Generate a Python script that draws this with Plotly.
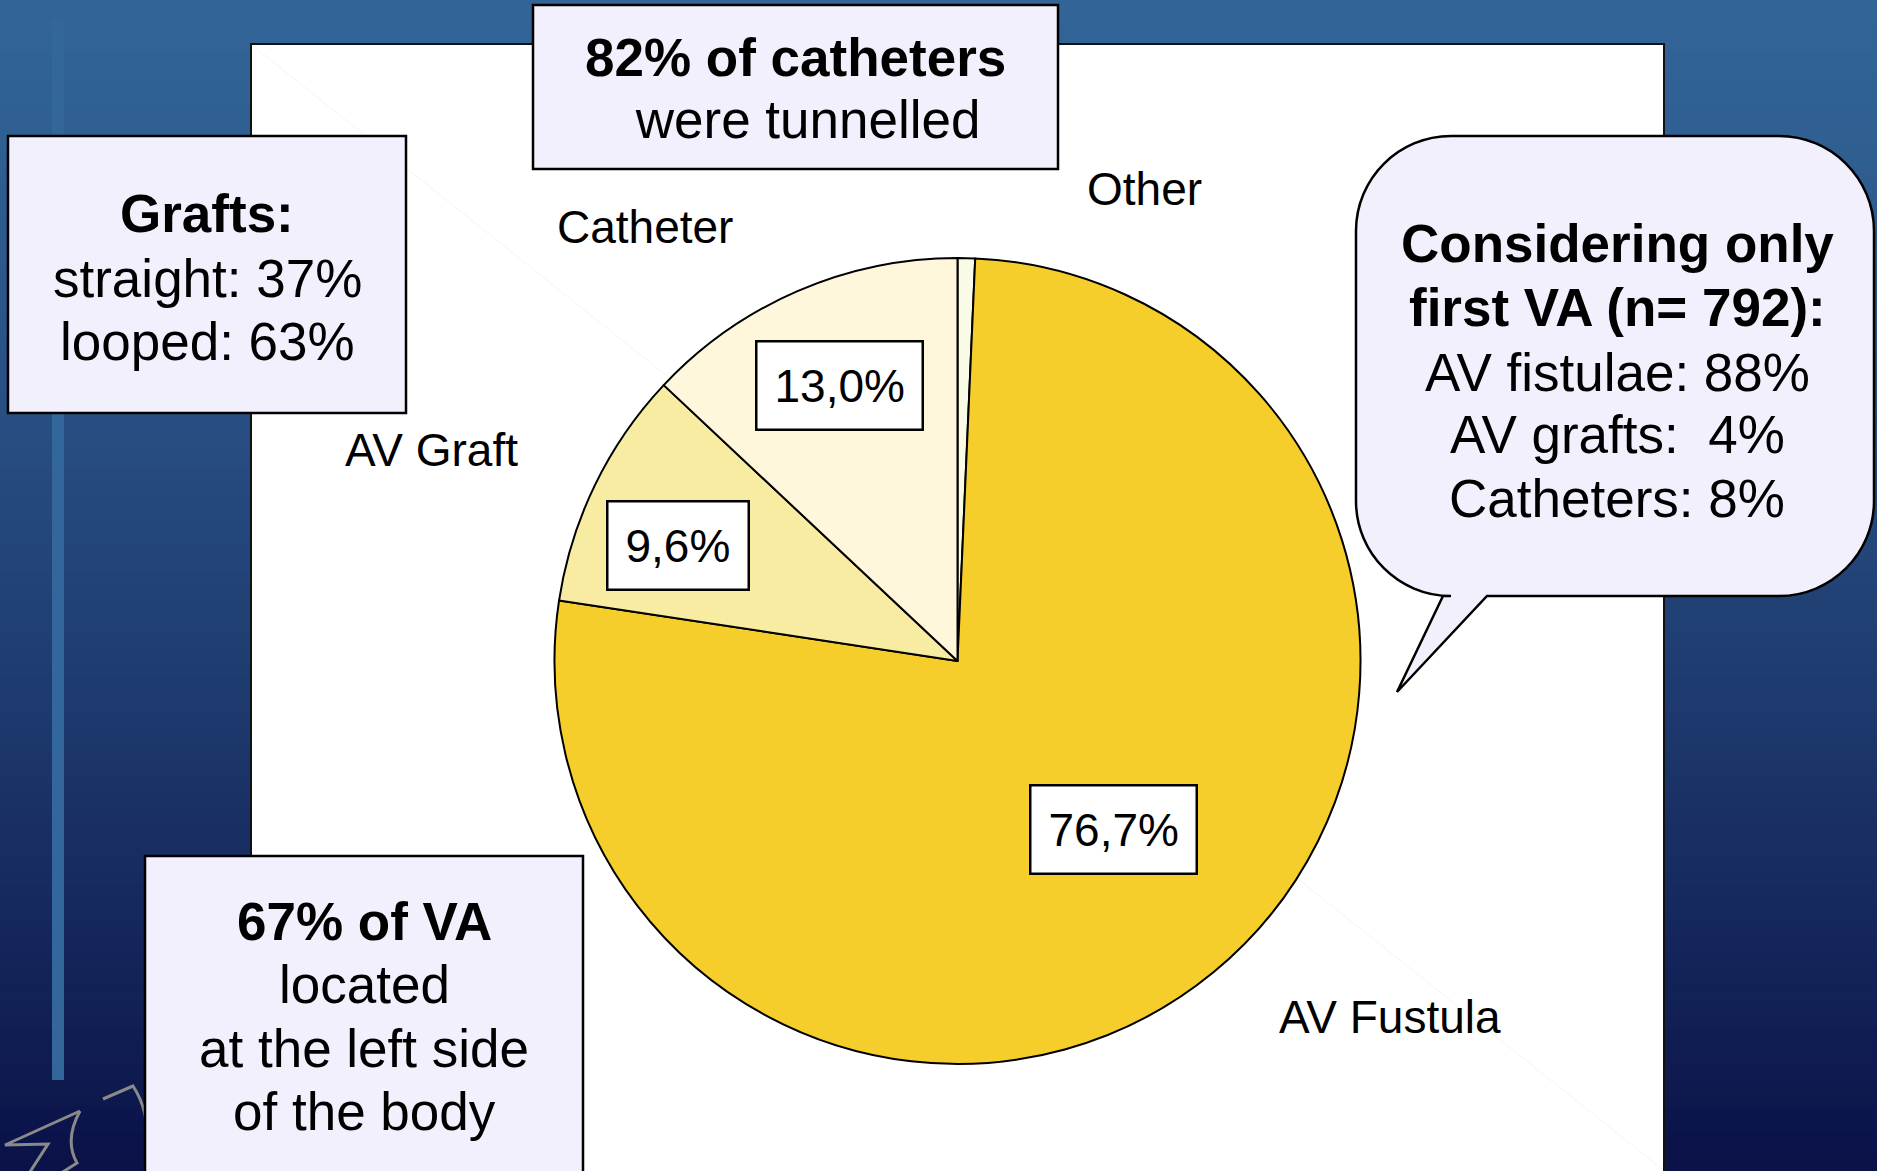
import math
import plotly.graph_objects as go

# ---------------- data ----------------
categories = ["Other", "AV Fustula", "AV Graft", "Catheter"]
values = [0.7, 76.7, 9.6, 13.0]
slice_colors = ["#FAFBE6", "#F6CE2B", "#F8ECA2", "#FEF7DC"]

top_box_lines = ["<b>82% of catheters</b>", " were tunnelled"]
grafts_box_lines = ["<b>Grafts:</b>", "straight: 37%", "looped: 63%"]
side_box_lines = ["<b>67% of VA</b>", "located", "at the left side", "of the body"]
callout_lines = ["<b>Considering only</b>", "<b>first VA (n= 792):</b>",
                 "AV fistulae: 88%", "AV grafts:  4%", "Catheters: 8%"]

# ---------------- canvas helpers ----------------
W, H = 1877, 1171
FONT = "Liberation Sans, Arial, sans-serif"


def px(x):
    return x / W


def py(y):
    return 1 - y / H


def hexmix(c1, c2, t):
    a = [int(c1[i:i + 2], 16) for i in (1, 3, 5)]
    b = [int(c2[i:i + 2], 16) for i in (1, 3, 5)]
    return "#" + "".join(f"{round(a[k] + (b[k] - a[k]) * t):02x}" for k in range(3))


def path_from(cmds):
    out = []
    for c in cmds:
        if isinstance(c, str):
            out.append(c)
        else:
            out.append(f"{px(c[0]):.6f},{py(c[1]):.6f}")
    return " ".join(out)


shapes = []
annotations = []

# background gradient
N = 90
for i in range(N):
    t = (i + 0.5) / N
    shapes.append(dict(type="rect", xref="paper", yref="paper", layer="below",
                       x0=0, x1=1, y0=py(i * H / N), y1=py((i + 1) * H / N + 1),
                       fillcolor=hexmix("#326497", "#0A1147", t ** 1.3),
                       line=dict(width=0)))

# left stripe
shapes.append(dict(type="rect", xref="paper", yref="paper", layer="below",
                   x0=px(52), x1=px(64), y0=py(20), y1=py(1080),
                   fillcolor="#33679B", line=dict(width=0)))

# logo outline (decoration)
logo = [
    ["M", (80, 1111), "L", (5, 1145), "L", (48, 1144), "L", (28, 1175)],
    ["M", (80, 1111), "Q", (64, 1140), (77, 1163), "L", (58, 1175)],
    ["M", (103, 1099), "L", (133, 1086), "Q", (150, 1112), (146, 1145)],
]
for p in logo:
    shapes.append(dict(type="path", xref="paper", yref="paper", layer="below",
                       path=path_from(p), line=dict(color="#8A8A8A", width=3)))

# white chart area
shapes.append(dict(type="rect", xref="paper", yref="paper", layer="below",
                   x0=px(251), x1=px(1664), y0=py(44), y1=py(1180),
                   fillcolor="white", line=dict(color="#111111", width=2)))
shapes.append(dict(type="line", xref="paper", yref="paper", layer="below",
                   x0=px(253), y0=py(46), x1=px(1662), y1=py(1169),
                   line=dict(color="#F5F5F5", width=1)))

BOX_FILL = "#F1F0FC"


def box(x0, y0, x1, y1):
    shapes.append(dict(type="rect", xref="paper", yref="paper", layer="below",
                       x0=px(x0), x1=px(x1), y0=py(y0), y1=py(y1),
                       fillcolor=BOX_FILL, line=dict(color="black", width=2.5)))


def text_lines(lines, xs, ys, size=53):
    for t, x, y in zip(lines, xs, ys):
        annotations.append(dict(xref="paper", yref="paper", x=px(x), y=py(y),
                                text=t, showarrow=False, xanchor="center",
                                yanchor="middle",
                                font=dict(family=FONT, size=size, color="black")))


box(533, 5, 1058, 169)
text_lines(top_box_lines, [795, 800], [57, 120])

box(8, 136, 406, 413)
text_lines(grafts_box_lines, [207, 207, 207], [214, 278, 341])

box(145, 856, 583, 1185)
text_lines(side_box_lines, [364, 364, 364, 364], [921, 985, 1048, 1111])

# callout with tail
L, R, T, B, r = 1356, 1874, 136, 596, 95
k = 0.5523 * r
callout = ["M", (L + r, T), "L", (R - r, T),
           "C", (R - r + k, T), (R, T + r - k), (R, T + r),
           "L", (R, B - r),
           "C", (R, B - r + k), (R - r + k, B), (R - r, B),
           "L", (1487, B), "L", (1397, 692), "L", (1443, B),
           "L", (L + r, B),
           "C", (L + r - k, B), (L, B - r + k), (L, B - r),
           "L", (L, T + r),
           "C", (L, T + r - k), (L + r - k, T), (L + r, T), "Z"]
shapes.append(dict(type="path", xref="paper", yref="paper", layer="below",
                   path=path_from(callout), fillcolor=BOX_FILL,
                   line=dict(color="black", width=2.5)))
text_lines(callout_lines, [1617] * 5, [243, 307, 372, 435, 499])

# ---------------- pie ----------------
CX, CY, RAD = 957.5, 661, 403
fig = go.Figure(go.Pie(
    labels=categories, values=values, sort=False, direction="clockwise",
    rotation=0, textinfo="none", hoverinfo="label+percent",
    marker=dict(colors=slice_colors, line=dict(color="black", width=2)),
    domain=dict(x=[px(CX - RAD), px(CX + RAD)], y=[py(CY + RAD), py(CY - RAD)]),
    showlegend=False,
))

# percentage boxes placed at slice mid-angles (computed from the data)
label_radius = {"AV Fustula": 0.57, "AV Graft": 0.75, "Catheter": 0.745}
label_angle_shift = {"AV Fustula": -3.4, "AV Graft": -3.4, "Catheter": 0.2}
total = sum(values)
cum = 0.0
for cat, v in zip(categories, values):
    mid = (cum + v / 2) / total * 2 * math.pi
    cum += v
    if cat not in label_radius:
        continue
    mid += math.radians(label_angle_shift[cat])
    rr = label_radius[cat] * RAD
    x = CX + rr * math.sin(mid)
    y = CY - rr * math.cos(mid)
    annotations.append(dict(xref="paper", yref="paper", x=px(x), y=py(y),
                            text=f"{v:.1f}%".replace(".", ","), showarrow=False,
                            xanchor="center", yanchor="middle",
                            bgcolor="white", bordercolor="black", borderwidth=2.5,
                            borderpad=17,
                            font=dict(family=FONT, size=46, color="black")))

# category labels
cat_label_pos = {"Other": (1144, 189), "Catheter": (645, 227),
                 "AV Graft": (431, 450), "AV Fustula": (1390, 1017)}
for cat in categories:
    x, y = cat_label_pos[cat]
    annotations.append(dict(xref="paper", yref="paper", x=px(x), y=py(y),
                            text=cat, showarrow=False, xanchor="center",
                            yanchor="middle",
                            font=dict(family=FONT, size=46, color="black")))

fig.update_layout(
    width=W, height=H, margin=dict(l=0, r=0, t=0, b=0),
    paper_bgcolor="#0A1147", plot_bgcolor="rgba(0,0,0,0)",
    shapes=shapes, annotations=annotations,
)

fig.write_html("out.html", config={"displayModeBar": False},
               post_script="document.body.style.margin='0';document.body.style.overflow='hidden';")
